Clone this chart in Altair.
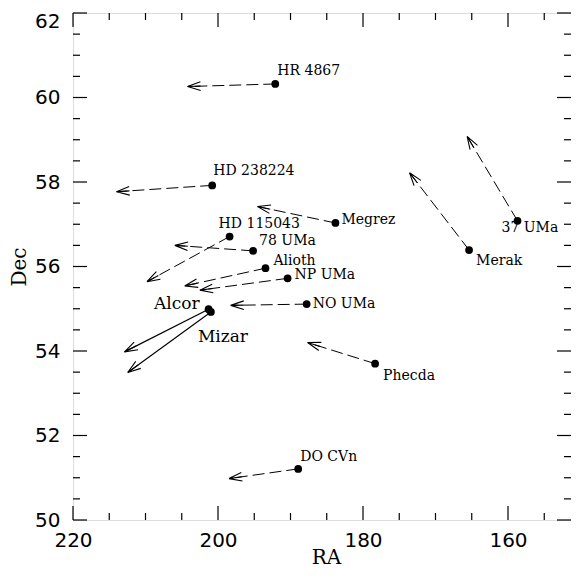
import math
import altair as alt
import pandas as pd

# ---- data ----
names = ["HR 4867", "HD 238224", "HD 115043", "78 UMa", "Megrez", "Alioth", "NP UMa",
         "NO UMa", "Alcor", "Mizar", "Phecda", "DO CVn", "Merak", "37 UMa"]
ra = [192.1, 200.8, 198.4, 195.16, 183.8, 193.45, 190.4,
      187.77, 201.3, 200.98, 178.33, 188.94, 165.37, 158.69]
dec = [60.32, 57.92, 56.71, 56.37, 57.03, 55.96, 55.72,
       55.11, 54.99, 54.925, 53.70, 51.21, 56.39, 57.08]
ra_tip = [204.2, 214.0, 209.8, 205.95, 194.55, 204.6, 202.5,
          198.24, 212.9, 212.45, 187.64, 198.48, 173.58, 165.64]
dec_tip = [60.26, 57.77, 55.64, 56.5, 57.42, 55.54, 55.44,
           55.08, 53.98, 53.49, 54.2, 50.98, 58.22, 59.08]
solid_names = ["Alcor", "Mizar"]

x_major = [220, 200, 180, 160]
x_minor = [215, 210, 205, 195, 190, 185, 175, 170, 165, 155]
y_major = [50, 52, 54, 56, 58, 60, 62]
y_minor = [50.5, 51, 51.5, 52.5, 53, 53.5, 54.5, 55, 55.5, 56.5, 57, 57.5,
           58.5, 59, 59.5, 60.5, 61, 61.5]

# ---- label styling (pixel offsets, alignment, size) ----
label_style = {
    "HR 4867": (2, -13, "left", 14),
    "HD 238224": (1, -14, "left", 14),
    "HD 115043": (-11, -13, "left", 14),
    "78 UMa": (6, -10, "left", 14),
    "Megrez": (6, -3, "left", 14),
    "Alioth": (8, -7, "left", 14),
    "NP UMa": (7, -3, "left", 14),
    "NO UMa": (6, 0, "left", 14),
    "Alcor": (-9, -5, "right", 17),
    "Mizar": (-13, 25, "left", 17),
    "Phecda": (8, 12, "left", 14),
    "DO CVn": (2, -12, "left", 14),
    "Merak": (7, 11, "left", 14),
    "37 UMa": (-16, 7, "left", 14),
}

# layout: the reference's frame runs just past the right edge of the picture,
# so the visible plot is cut at the window edge with the same RA scale
PX_PER_RA = 7.25
W, H = 498, 507
PAD_L, PAD_T, PAD_R, PAD_B = 65, 5, 0, 48
X_DOM = [220 - W / PX_PER_RA, 220]
Y_DOM = [50, 62]
kx = W / (X_DOM[1] - X_DOM[0])
ky = H / (Y_DOM[1] - Y_DOM[0])

df = pd.DataFrame({"name": names, "ra": ra, "dec": dec, "ra_tip": ra_tip, "dec_tip": dec_tip})
# arrowhead rotation (screen space, clockwise degrees)
df["ang"] = [
    math.degrees(math.atan2(-(dt - d) * ky, -(rt - r) * kx)) % 360
    for r, d, rt, dt in zip(df.ra, df.dec, df.ra_tip, df.dec_tip)
]
df["solid"] = df["name"].isin(solid_names)

xs = alt.Scale(domain=X_DOM, reverse=True, nice=False, zero=False)
ys = alt.Scale(domain=Y_DOM, nice=False, zero=False)

common = dict(labelOverlap=False, ticks=False, domain=False, grid=False,
              labelFont="DejaVu Sans", labelFontSize=20, labelColor="black",
              titleFont="DejaVu Serif", titleFontSize=20, titleFontWeight="normal",
              titleColor="black")
xaxis = alt.Axis(values=x_major, labelFlush=False, labelPadding=10,
                 titleX=(73 + 579) / 2 - 73, titleY=PAD_B - 5, titleBaseline="alphabetic",
                 **common)
yaxis = alt.Axis(values=y_major, labelFlush=False, labelPadding=13, titlePadding=5,
                 labelOffset={"condition": {"test": "datum.value == 62", "value": 8}, "value": 0},
                 **common)


def X(field):
    return alt.X(field, type="quantitative", scale=xs, axis=xaxis, title="RA")


def Y(field):
    return alt.Y(field, type="quantitative", scale=ys, axis=yaxis, title="Dec")


layers = []

# dashed shafts
layers.append(
    alt.Chart(df[~df.solid]).mark_rule(color="black", strokeWidth=1, strokeDash=[12, 5]).encode(
        x=X("ra"), y=Y("dec"), x2=alt.X2("ra_tip"), y2=alt.Y2("dec_tip"))
)
# solid shafts
layers.append(
    alt.Chart(df[df.solid]).mark_rule(color="black", strokeWidth=1.2).encode(
        x=X("ra"), y=Y("dec"), x2=alt.X2("ra_tip"), y2=alt.Y2("dec_tip"))
)
# arrow heads
head = "M0,0L-1,-0.33M0,0L-1,0.33M0,0L-1,0"
layers.append(
    alt.Chart(df).mark_point(shape=head, filled=False, color="black", strokeWidth=1.1,
                             opacity=1, size=676).encode(
        x=X("ra_tip"), y=Y("dec_tip"), angle=alt.Angle("ang:Q", scale=None))
)
# dots
layers.append(
    alt.Chart(df).mark_circle(color="black", opacity=1, size=60).encode(x=X("ra"), y=Y("dec"))
)
# labels
for n in names:
    dx, dy, al, fs = label_style[n]
    layers.append(
        alt.Chart(df[df.name == n]).mark_text(
            dx=dx, dy=dy, align=al, baseline="middle", font="DejaVu Serif",
            fontSize=fs, color="black").encode(x=X("ra"), y=Y("dec"), text="name:N")
    )


# inward ticks on all four sides
def tick_df(vals):
    return pd.DataFrame({"v": vals})


for vals, ln in ((x_major, 14), (x_minor, 7)):
    layers.append(alt.Chart(tick_df(vals)).mark_rule(color="black", strokeWidth=1.2).encode(
        x=X("v"), y=alt.value(H), y2=alt.value(H - ln)))
    layers.append(alt.Chart(tick_df(vals)).mark_rule(color="black", strokeWidth=1.2).encode(
        x=X("v"), y=alt.value(0), y2=alt.value(ln)))
for vals, ln in ((y_major, 14), (y_minor, 7)):
    layers.append(alt.Chart(tick_df(vals)).mark_rule(color="black", strokeWidth=1.2).encode(
        y=Y("v"), x=alt.value(0), x2=alt.value(ln)))
    layers.append(alt.Chart(tick_df(vals)).mark_rule(color="black", strokeWidth=1.2).encode(
        y=Y("v"), x=alt.value(W), x2=alt.value(W - ln)))

chart = alt.layer(*layers).properties(
    width=W, height=H,
    autosize=alt.AutoSizeParams(type="none"),
    padding={"left": PAD_L, "top": PAD_T, "right": PAD_R, "bottom": PAD_B},
).configure_view(stroke="black", strokeWidth=1.6).configure(background="white")

chart.save("out.html", embed_options={"renderer": "svg", "actions": False})
